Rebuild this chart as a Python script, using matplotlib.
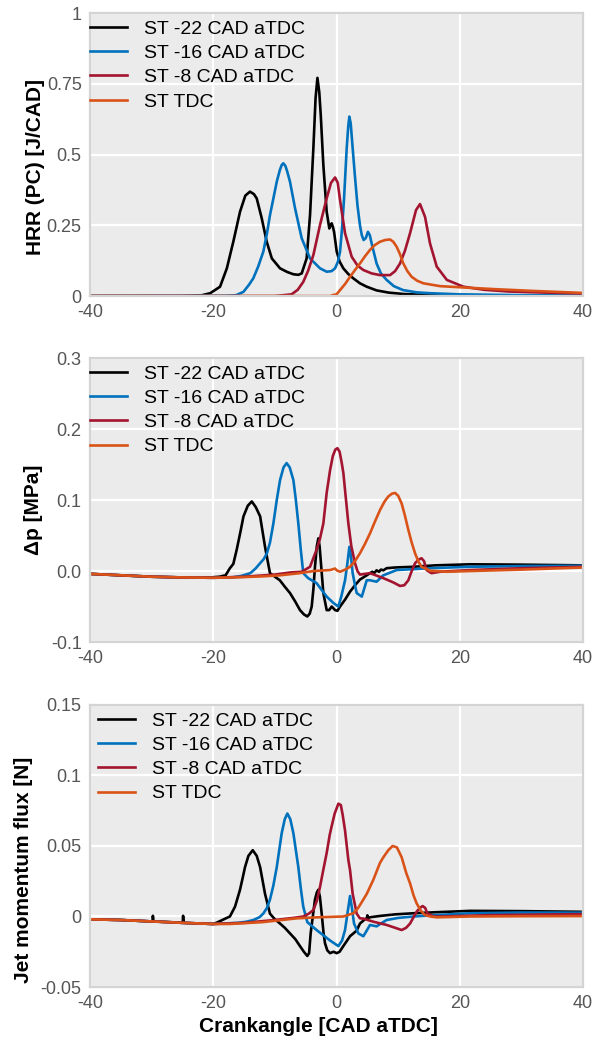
import matplotlib
matplotlib.use("Agg")
import matplotlib.pyplot as plt

plt.rcParams['font.family'] = ['Liberation Sans', 'DejaVu Sans']

labels = ["ST -22 CAD aTDC", "ST -16 CAD aTDC", "ST -8 CAD aTDC", "ST TDC"]
colors = ["#000000", "#0072bd", "#a2142f", "#d95319"]

# ---- heat release rate [J/CAD]
hrr_st22_x = [-40, -25, -22, -20.5, -18.9, -17.8, -16.75, -15.66, -14.8, -14.04, -13.4, -12.95,
              -12.14, -11.33, -10.5, -9.17, -8, -7.0, -6.2, -5.65, -4.85, -4.3, -3.76, -3.4, -3.1,
              -2.8, -2.56, -2.14, -1.6, -1.17, -0.95, -0.79, -0.6, -0.4, 0.03, 0.5, 1.1, 1.9, 2.7,
              3.8, 4.9, 6.5, 8.5, 11, 15, 20, 30, 40]
hrr_st22_y = [0, 0, 0.002, 0.01, 0.033, 0.098, 0.192, 0.298, 0.355, 0.369, 0.36, 0.345, 0.275,
              0.192, 0.133, 0.098, 0.085, 0.077, 0.075, 0.08, 0.133, 0.286, 0.522, 0.7, 0.771,
              0.72, 0.64, 0.463, 0.298, 0.239, 0.25, 0.257, 0.245, 0.227, 0.157, 0.122, 0.098,
              0.078, 0.063, 0.045, 0.033, 0.02, 0.012, 0.007, 0.004, 0.003, 0.002, 0.001]
hrr_st16_x = [-40, -18, -16.3, -15.1, -14.2, -13.5, -12.7, -11.88, -11.3, -10.8, -10.2, -9.7, -9.2,
              -8.9, -8.63, -8.3, -8.0, -7.55, -6.73, -5.65, -4.3, -2.68, -1.6, -0.8, -0.24, 0.2,
              0.57, 0.9, 1.22, 1.65, 1.9, 2.08, 2.3, 2.62, 3.0, 3.4, 3.8, 4.1, 4.4, 4.75, 5.1, 5.4,
              5.7, 6.5, 7.2, 8.13, 9.3, 10.8, 13, 15.2, 20, 30, 40]
hrr_st16_y = [0, 0.001, 0.003, 0.015, 0.04, 0.063, 0.105, 0.157, 0.22, 0.286, 0.35, 0.404, 0.445,
              0.463, 0.469, 0.46, 0.44, 0.404, 0.31, 0.204, 0.133, 0.098, 0.086, 0.088, 0.098,
              0.12, 0.157, 0.24, 0.345, 0.522, 0.6, 0.634, 0.61, 0.522, 0.42, 0.32, 0.25, 0.215,
              0.198, 0.205, 0.227, 0.215, 0.186, 0.115, 0.08, 0.057, 0.035, 0.021, 0.013, 0.01,
              0.006, 0.003, 0.002]
hrr_st8_x = [-40, -10, -7.3, -6.3, -5.4, -4.6, -3.76, -2.68, -1.6, -0.9, -0.24, 0.2, 0.57, 1.38,
             2.46, 3.4, 4.35, 5.7, 7.06, 8.68, 9.5, 10.3, 11.1, 11.93, 12.9, 13.55, 14.36, 15.17,
             16.26, 17.9, 20.6, 24, 28, 34, 40]
hrr_st8_y = [0, 0, 0.006, 0.022, 0.05, 0.09, 0.145, 0.251, 0.345, 0.4, 0.419, 0.4, 0.339, 0.222,
             0.139, 0.108, 0.092, 0.08, 0.074, 0.074, 0.088, 0.115, 0.16, 0.222, 0.304, 0.325,
             0.28, 0.186, 0.104, 0.057, 0.033, 0.022, 0.016, 0.012, 0.009]
hrr_tdc_x = [-40, -1.05, -0.5, 0.0, 0.57, 1.4, 2.19, 3.0, 3.8, 4.6, 5.43, 6.2, 7.06, 7.9, 8.68, 9.2,
             9.76, 10.3, 10.84, 11.5, 12.19, 13.1, 14.1, 16.8, 21.7, 26, 32, 40]
hrr_tdc_y = [0, 0.0, 0.004, 0.006, 0.021, 0.043, 0.068, 0.092, 0.115, 0.14, 0.163, 0.18, 0.192,
             0.198, 0.2, 0.192, 0.174, 0.148, 0.115, 0.088, 0.068, 0.054, 0.045, 0.035, 0.029,
             0.024, 0.018, 0.011]

# ---- pressure difference [MPa]
dp_st22_x = [-40, -35, -30, -25, -20.5, -19, -18, -17.3, -16.75, -16.2, -15.6, -15.1, -14.4, -13.75,
             -13.1, -12.4, -11.6, -10.8, -10, -9.2, -8.4, -7.55, -6.7, -5.93, -5.3, -4.74, -4.35,
             -4.03, -3.75, -3.5, -3.2, -2.95, -2.75, -2.57, -2.14, -1.6, -1.2, -0.79, -0.45, -0.24,
             0.15, 0.57, 1.4, 2.19, 3.0, 3.8, 4.9, 5.43, 5.8, 6.1, 6.5, 6.9, 7.2, 7.6, 8.13, 9.5,
             12.5, 16, 21.7, 30, 40]
dp_st22_y = [-0.004, -0.006, -0.008, -0.009, -0.009, -0.008, -0.006, 0.004, 0.01, 0.03, 0.055,
             0.077, 0.092, 0.098, 0.09, 0.077, 0.034, -0.003, -0.008, -0.013, -0.022, -0.031,
             -0.043, -0.055, -0.061, -0.064, -0.06, -0.05, -0.025, 0.006, 0.035, 0.046, 0.035,
             0.0155, -0.031, -0.055, -0.055, -0.05, -0.053, -0.055, -0.056, -0.05, -0.04, -0.029,
             -0.02, -0.012, -0.006, -0.003, -0.001, -0.003, 0.001, -0.001, 0.002, 0.001, 0.004,
             0.005, 0.006, 0.008, 0.0095, 0.009, 0.008]
dp_st16_x = [-40, -35, -30, -25, -20, -17, -15.5, -14.0, -13.2, -12.4, -11.8, -11.3, -10.8, -10.25,
             -9.7, -9.17, -8.6, -8.1, -7.6, -7.0, -6.6, -6.2, -5.8, -5.4, -4.6, -3.24, -1.6, -0.5,
             0.3, 0.8, 1.38, 1.75, 2.08, 2.35, 2.62, 3.0, 3.27, 4.1, 4.9, 5.43, 6.5, 7.6, 9.76,
             15.2, 21.7, 30, 40]
dp_st16_y = [-0.004, -0.006, -0.008, -0.009, -0.0095, -0.009, -0.007, -0.003, 0.003, 0.011, 0.017,
             0.025, 0.04, 0.067, 0.1, 0.128, 0.146, 0.152, 0.146, 0.128, 0.1, 0.067, 0.03, -0.003,
             -0.01, -0.017, -0.036, -0.045, -0.05, -0.035, -0.013, 0.01, 0.034, 0.02, -0.003,
             -0.02, -0.031, -0.036, -0.013, -0.013, -0.015, -0.006, 0.0014, 0.004, 0.006, 0.007,
             0.0075]
dp_st8_x = [-40, -35, -30, -25, -20, -15, -10, -7.5, -5.65, -4.3, -3.24, -2.7, -2.14, -1.6, -1.05,
            -0.6, -0.2, 0.15, 0.5, 0.85, 1.11, 1.38, 1.92, 2.4, 3.0, 3.4, 3.8, 5.43, 7.6, 9.2, 10.3,
            11.0, 11.65, 12.2, 12.74, 13.3, 13.8, 14.2, 14.6, 15.4, 16.8, 21.7, 30, 40]
dp_st8_y = [-0.004, -0.006, -0.008, -0.009, -0.0095, -0.008, -0.005, -0.002, -0.001, 0.006, 0.03,
            0.045, 0.067, 0.11, 0.142, 0.162, 0.171, 0.173, 0.168, 0.152, 0.138, 0.114, 0.067,
            0.035, 0.011, 0.0, -0.005, -0.003, -0.01, -0.016, -0.021, -0.02, -0.013, 0.0, 0.011,
            0.016, 0.018, 0.014, 0.0014, -0.003, -0.001, 0.0014, 0.004, 0.006]
dp_tdc_x = [-40, -35, -30, -25, -20, -16.8, -12, -9.17, -6, -3.76, -1.05, -0.24, 0.03, 0.57, 1.4,
            2.19, 3.0, 3.8, 4.6, 5.43, 6.2, 7.06, 7.8, 8.4, 9.0, 9.5, 10.0, 10.57, 11.1, 11.65,
            12.2, 12.74, 13.3, 13.8, 15.2, 17.9, 21.7, 30, 40]
dp_tdc_y = [-0.004, -0.006, -0.008, -0.009, -0.0095, -0.009, -0.0075, -0.006, -0.003, 0.0, 0.0014,
            0.0035, 0.001, -0.001, 0.002, 0.006, 0.014, 0.025, 0.038, 0.053, 0.069, 0.086, 0.098,
            0.105, 0.109, 0.11, 0.106, 0.095, 0.078, 0.058, 0.04, 0.025, 0.013, 0.006, 0.0004,
            -0.001, 0.0, 0.002, 0.005]

# ---- jet momentum flux [N]
jmf_st22_x = [-40, -35, -30, -29.85, -29.8, -29.7, -27, -25, -24.95, -24.9, -24.8, -22, -20, -19.45,
              -18.3, -17.3, -16.47, -15.66, -15.2, -14.85, -14.3, -13.6, -12.95, -12.4, -11.6,
              -10.8, -10, -9.17, -8.4, -7.55, -6.7, -5.93, -5.3, -4.74, -4.45, -4.2, -3.85, -3.5,
              -3.2, -2.95, -2.7, -2.41, -2.1, -1.87, -1.5, -1.06, -0.5, 0.03, 0.5, 1.1, 2.19, 3.27,
              3.8, 4.6, 4.9, 5.0, 5.1, 5.5, 7.06, 9.5, 12.5, 16, 21.7, 30, 39.9]
jmf_st22_y = [-0.002, -0.0025, -0.0035, -0.0035, 0.0005, -0.0035, -0.004, -0.0045, -0.0045, 0.0005,
              -0.0045, -0.005, -0.0053, -0.0044, -0.002, 0.0, 0.007, 0.019, 0.028, 0.035, 0.043,
              0.047, 0.043, 0.035, 0.016, 0.002, -0.002, -0.005, -0.008, -0.012, -0.016, -0.021,
              -0.025, -0.028, -0.026, -0.012, 0.0, 0.012, 0.017, 0.019, 0.014, 0.002, -0.012,
              -0.019, -0.024, -0.026, -0.025, -0.026, -0.025, -0.021, -0.014, -0.01, -0.005,
              -0.002, -0.0013, 0.0008, -0.001, -0.0005, 0.0004, 0.0015, 0.0023, 0.003, 0.004,
              0.0038, 0.0033]
jmf_st16_x = [-40, -35, -30, -25, -20, -16, -14.6, -13.5, -12.5, -11.9, -11.3, -10.8, -10.25, -9.7,
              -9.2, -8.9, -8.4, -7.98, -7.5, -7.0, -6.6, -6.2, -5.8, -5.4, -4.74, -3.24, -1.06, 0.3,
              0.9, 1.38, 1.8, 2.19, 2.5, 2.84, 3.54, 4.35, 4.9, 5.43, 6.5, 7.2, 8.13, 10, 12.5, 16,
              21.7, 30, 39.9]
jmf_st16_y = [-0.002, -0.0025, -0.0035, -0.0045, -0.0053, -0.0045, -0.0037, -0.0025, -0.0005, 0.002,
              0.006, 0.012, 0.022, 0.035, 0.05, 0.059, 0.069, 0.073, 0.069, 0.059, 0.047, 0.035,
              0.02, 0.007, -0.004, -0.0096, -0.017, -0.021, -0.017, -0.0096, 0.003, 0.0145, 0.006,
              -0.005, -0.012, -0.014, -0.01, -0.006, -0.007, -0.005, -0.0025, -0.001, 0.0, 0.001,
              0.0023, 0.0028, 0.0027]
jmf_st8_x = [-40, -35, -30, -25, -20, -15, -10, -7, -5.4, -4.5, -3.76, -3.2, -2.68, -2.15, -1.6,
             -1.1, -0.79, -0.3, 0.3, 0.7, 1.0, 1.38, 1.92, 2.19, 2.62, 3.0, 3.27, 3.8, 4.35, 5.97,
             8.13, 9.5, 10.57, 11.3, 11.93, 12.5, 13.0, 13.5, 13.98, 14.4, 14.72, 15.7, 17, 25,
             39.9]
jmf_st8_y = [-0.002, -0.0025, -0.0035, -0.0045, -0.0053, -0.0045, -0.0025, -0.001, 0.0, 0.002,
             0.0046, 0.011, 0.021, 0.033, 0.045, 0.058, 0.064, 0.073, 0.08, 0.079, 0.072, 0.061,
             0.04, 0.033, 0.016, 0.008, 0.002, -0.0013, -0.0015, -0.0037, -0.006, -0.008, -0.0096,
             -0.008, -0.005, -0.0005, 0.0034, 0.006, 0.0074, 0.006, 0.0023, 0.0, 0.0, 0.001, 0.0017]
jmf_tdc_x = [-40, -35, -30, -25, -20, -17.3, -12, -6.46, -2.7, 1.1, 2.73, 3.5, 4.35, 4.9, 5.97,
             7.05, 7.6, 8.4, 9.1, 9.8, 10.57, 11.3, 11.93, 12.5, 13.0, 13.7, 14.36, 15.2, 16.26,
             21.7, 30, 39.9]
jmf_tdc_y = [-0.002, -0.0025, -0.0035, -0.0045, -0.0053, -0.0053, -0.004, -0.0013, -0.0005, 0.0,
             0.0023, 0.006, 0.012, 0.016, 0.026, 0.038, 0.042, 0.047, 0.05, 0.049, 0.042, 0.031,
             0.0235, 0.015, 0.0093, 0.004, 0.001, 0.0, -0.0006, 0.0, 0.0002, 0.0003]

x_ticks = [-40, -20, 0, 20, 40]
x_ticklabels = ["-40", "-20", "0", "20", "40"]

panels = [
    dict(series=[(hrr_st22_x, hrr_st22_y), (hrr_st16_x, hrr_st16_y),
                 (hrr_st8_x, hrr_st8_y), (hrr_tdc_x, hrr_tdc_y)],
         yticks=[0, 0.25, 0.5, 0.75, 1], yticklabels=["0", "0.25", "0.5", "0.75", "1"],
         ylabel="HRR (PC) [J/CAD]", rect=[0.1498, 0.7167, 0.8203, 0.2708],
         label_xy=(-0.092, 0.456), leg_x=-0.006),
    dict(series=[(dp_st22_x, dp_st22_y), (dp_st16_x, dp_st16_y),
                 (dp_st8_x, dp_st8_y), (dp_tdc_x, dp_tdc_y)],
         yticks=[-0.1, 0, 0.1, 0.2, 0.3], yticklabels=["-0.1", "0.0", "0.1", "0.2", "0.3"],
         ylabel="Δp [MPa]", rect=[0.1498, 0.3856, 0.8203, 0.2718],
         label_xy=(-0.095, 0.465), leg_x=-0.006),
    dict(series=[(jmf_st22_x, jmf_st22_y), (jmf_st16_x, jmf_st16_y),
                 (jmf_st8_x, jmf_st8_y), (jmf_tdc_x, jmf_tdc_y)],
         yticks=[-0.05, 0, 0.05, 0.1, 0.15], yticklabels=["-0.05", "0", "0.05", "0.1", "0.15"],
         ylabel="Jet momentum flux [N]", rect=[0.1498, 0.0555, 0.8203, 0.2699],
         label_xy=(-0.116, 0.415), leg_x=0.01),
]

fig = plt.figure(figsize=(6.01, 10.45), dpi=100)

for i, p in enumerate(panels):
    ax = fig.add_axes(p["rect"])
    ax.set_facecolor("#ebebeb")
    for (xs, ys), c, lab in zip(p["series"], colors, labels):
        ax.plot(xs, ys, color=c, lw=1.9, label=lab, solid_joinstyle="round")
    ax.set_xlim(-40, 40)
    ax.set_ylim(p["yticks"][0], p["yticks"][-1])
    ax.set_xticks(x_ticks)
    ax.set_xticklabels(x_ticklabels)
    ax.set_yticks(p["yticks"])
    ax.set_yticklabels(p["yticklabels"])
    ax.tick_params(length=0, pad=6, labelsize=13, labelcolor="#555555")
    ax.grid(True, color="white", lw=1.6)
    ax.set_axisbelow(True)
    for s in ax.spines.values():
        s.set_color("#d4d4d4")
        s.set_linewidth(1.6)
    ax.set_ylabel(p["ylabel"], fontsize=15, fontweight="bold")
    ax.yaxis.set_label_coords(*p["label_xy"])
    ax.legend(loc="upper left", bbox_to_anchor=(p["leg_x"], 0.985), frameon=False,
              fontsize=14, handlelength=1.9, handletextpad=0.9, labelspacing=0.34,
              borderaxespad=0.0, borderpad=0.15)
    if i == 2:
        ax.set_xlabel("Crankangle [CAD aTDC]", fontsize=15, fontweight="bold")
        ax.xaxis.set_label_coords(0.4625, -0.105)

fig.savefig("out.png", dpi=100)
